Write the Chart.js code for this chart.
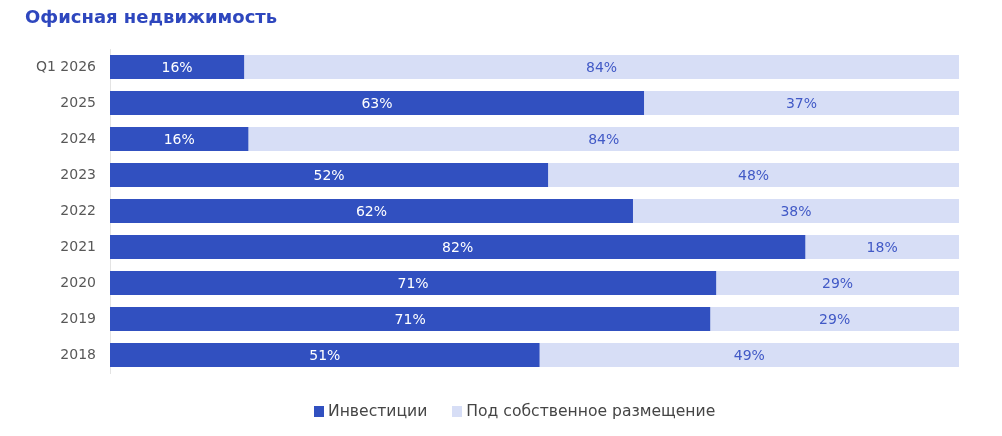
<!DOCTYPE html>
<html>
<head>
<meta charset="utf-8">
<script src="https://cdn.jsdelivr.net/npm/chart.js@4"></script>
<style>
  html, body { margin: 0; padding: 0; background: #fff; }
  #wrap { position: relative; width: 1002px; height: 436px; }
  #title { position: absolute; left: 25px; top: 6px; font-family: "DejaVu Sans", sans-serif; font-weight: bold; font-size: 18px; color: #2E47BE; }
  canvas { position: absolute; left: 0; top: 0; }
  #legend { position: absolute; left: 314px; top: 401px; height: 20px; display: flex; align-items: center; font-family: "DejaVu Sans", sans-serif; font-size: 15.6px; color: #454545; white-space: nowrap; }
  .item { display: flex; align-items: center; }
  .box { width: 10px; height: 11px; margin-right: 4px; }
</style>
</head>
<body>
<div id="wrap">
  <canvas id="c" width="1002" height="436"></canvas>
  <div id="title">Офисная недвижимость</div>
  <div id="legend"></div>
</div>
<script>
const categories = ["Q1 2026", "2025", "2024", "2023", "2022", "2021", "2020", "2019", "2018"];
const investments = [15.8, 62.9, 16.3, 51.6, 61.6, 81.9, 71.4, 70.7, 50.6];
const ownUse = [84.2, 37.1, 83.7, 48.4, 38.4, 18.1, 28.6, 29.3, 49.4];
const seriesNames = ["Инвестиции", "Под собственное размещение"];

const darkBlue = "#3150C0";
const lightBlue = "#D7DEF6";
const colors = [darkBlue, lightBlue];

const labelPlugin = {
  id: "segLabels",
  afterDatasetsDraw(chart) {
    const ctx = chart.ctx;
    ctx.save();
    ctx.font = "14px 'DejaVu Sans', sans-serif";
    ctx.textAlign = "center";
    ctx.textBaseline = "middle";
    chart.data.datasets.forEach((ds, di) => {
      const meta = chart.getDatasetMeta(di);
      meta.data.forEach((bar, i) => {
        const p = bar.getProps(["x", "y", "base"], true);
        const cx = (p.x + p.base) / 2;
        ctx.fillStyle = di === 0 ? "#FFFFFF" : "#4159C6";
        ctx.fillText(Math.round(ds.data[i]) + "%", cx, p.y + 1);
      });
    });
    ctx.restore();
  }
};

const chart = new Chart(document.getElementById("c"), {
  type: "bar",
  data: {
    labels: categories,
    datasets: [
      { label: seriesNames[0], data: investments, backgroundColor: colors[0], borderWidth: 0, categoryPercentage: 1, barPercentage: 0.67 },
      { label: seriesNames[1], data: ownUse, backgroundColor: colors[1], borderWidth: 0, categoryPercentage: 1, barPercentage: 0.67 }
    ]
  },
  options: {
    indexAxis: "y",
    responsive: false,
    animation: false,
    layout: { padding: { left: 0, right: 43, top: 49, bottom: 63 } },
    scales: {
      x: { stacked: true, min: 0, max: 100, display: false },
      y: {
        stacked: true,
        afterFit(scale) { scale.width = 110; },
        grid: { display: false, drawTicks: false },
        border: { display: true, color: "#E3E3E3", width: 1 },
        ticks: { color: "#585858", padding: 14, font: { family: "'DejaVu Sans', sans-serif", size: 14 } }
      }
    },
    plugins: {
      tooltip: { enabled: false },
      legend: { display: false }
    }
  },
  plugins: [labelPlugin]
});

const legendEl = document.getElementById("legend");
chart.data.datasets.forEach((ds, i) => {
  const item = document.createElement("span");
  item.className = "item";
  if (i > 0) item.style.marginLeft = "25px";
  const box = document.createElement("span");
  box.className = "box";
  box.style.background = ds.backgroundColor;
  const txt = document.createElement("span");
  txt.textContent = ds.label;
  item.appendChild(box);
  item.appendChild(txt);
  legendEl.appendChild(item);
});
</script>
</body>
</html>
